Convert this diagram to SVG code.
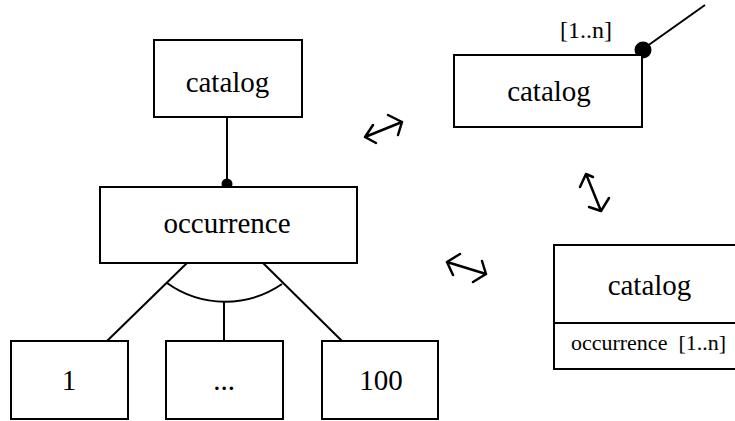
<svg xmlns="http://www.w3.org/2000/svg" width="735" height="421" viewBox="0 0 735 421">
<defs>
<style>
.box{fill:#fff;stroke:#000;stroke-width:2}
.ln{fill:none;stroke:#000;stroke-width:2}
.ar{fill:none;stroke:#000;stroke-width:2.5;stroke-linecap:round;stroke-linejoin:round}
text{font-family:"Liberation Serif","Times New Roman","DejaVu Serif",serif;fill:#000;text-anchor:middle}
.big{font-size:29px}
.mid{font-size:24px}
.sm{font-size:22px}
</style>
</defs>
<g id="connectors">
<line class="ln" x1="227" y1="117" x2="227" y2="184"/>
<line class="ln" x1="187" y1="263" x2="107" y2="341"/>
<line class="ln" x1="263" y1="263" x2="342" y2="341"/>
<line class="ln" x1="224" y1="302" x2="224" y2="341"/>
<path class="ln" d="M167,283 A100,100 0 0 0 282,284"/>
<circle cx="227" cy="184" r="5.5" fill="#000"/>
<line class="ln" x1="643" y1="49" x2="705" y2="5"/>
<circle cx="643" cy="50" r="8.5" fill="#000"/>
</g>
<g id="arrows">
<path class="ar" d="M365,137 L402,122 M365,137 L373,125 M365,137 L376,143 M402,122 L388,115 M402,122 L398,135"/>
<path class="ar" d="M447,262 L486,274 M447,262 L460,254 M447,262 L453,275 M486,274 L482,261 M486,274 L473,282"/>
<path class="ar" d="M586,174 L601,211 M586,174 L580,187 M586,174 L593,177 M601,211 L589,207 M601,211 L609,198"/>
</g>
<g id="catalog-left" font-family="Liberation Serif, serif">
<rect class="box" x="154" y="40" width="148" height="77"/>
<text class="big" x="227.5" y="92">catalog</text>
</g>
<g id="occurrence" font-family="Liberation Serif, serif">
<rect class="box" x="100" y="187" width="257" height="76"/>
<text class="big" x="227" y="233">occurrence</text>
</g>
<g id="n1" font-family="Liberation Serif, serif">
<rect class="box" x="11" y="341" width="117" height="78"/>
<text class="big" x="69" y="390">1</text>
</g>
<g id="ndots" font-family="Liberation Serif, serif">
<rect class="box" x="166" y="341" width="117" height="78"/>
<text class="big" x="224" y="390">...</text>
</g>
<g id="n100" font-family="Liberation Serif, serif">
<rect class="box" x="322" y="341" width="116" height="78"/>
<text class="big" x="381" y="390">100</text>
</g>
<g id="catalog-top" font-family="Liberation Serif, serif">
<rect class="box" x="454" y="55" width="188" height="72"/>
<text class="big" x="549" y="101">catalog</text>
<text class="mid" x="586" y="38">[1..n]</text>
</g>
<g id="catalog-right" font-family="Liberation Serif, serif">
<path class="ln" d="M736,245 L554,245 L554,369 L736,369 M554,323 L736,323"/>
<text class="big" x="649.5" y="295">catalog</text>
<text class="sm" x="648.5" y="350" xml:space="preserve">occurrence  [1..n]</text>
</g>
</svg>
